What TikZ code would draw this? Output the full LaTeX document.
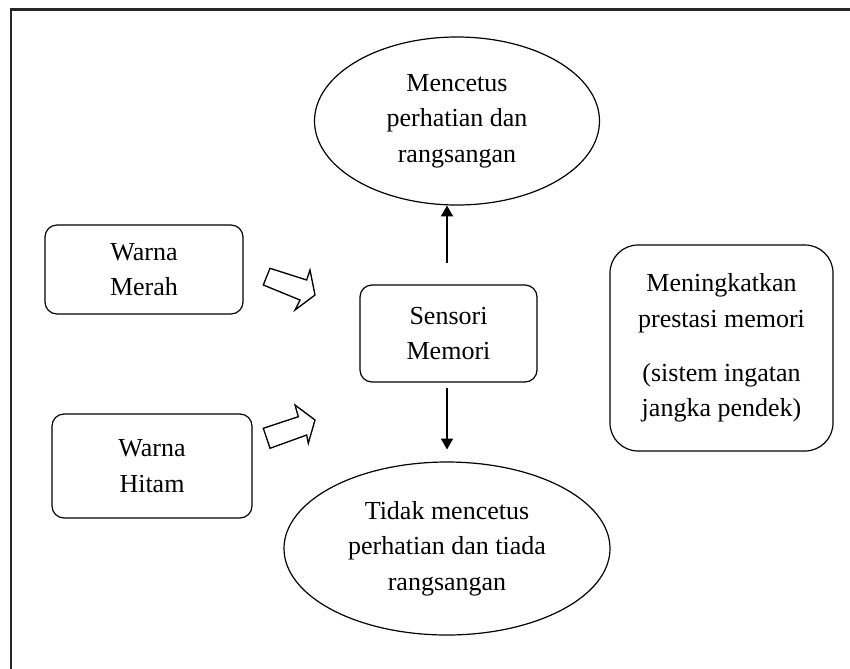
\documentclass[tikz,border=0pt]{standalone}
\usepackage{fontspec}
\setmainfont{Liberation Serif}
\usetikzlibrary{shapes.geometric,arrows.meta}
\tikzset{
  lbl/.style={font=\fontsize{19.5}{26.5}\selectfont, align=center, inner sep=0pt},
  rbox/.style={lbl, draw, line width=0.9pt, rounded corners=9pt},
  ebox/.style={lbl, draw, ellipse, line width=0.9pt},
  conn/.style={line width=0.8pt, -{Triangle[width=9pt,length=8pt]}},
  blockarrow/.style={draw, line width=1pt, line join=miter, fill=white},
  frame/.style={line width=1.6pt, black!85}
}
\begin{document}
\begin{tikzpicture}[x=0.75pt, y=-0.75pt]
\useasboundingbox (0,0) rectangle (850,668);
% frame (open at right and bottom)
\draw[frame] (11,680) -- (11,9.5) -- (860,9.5);

\node[ebox, minimum width=213.75pt, minimum height=126pt] (top) at (457,121)
  {Mencetus\\perhatian dan\\rangsangan};
\node[ebox, minimum width=244.5pt, minimum height=129.75pt] (bot) at (447,548.5)
  {Tidak mencetus\\perhatian dan tiada\\rangsangan};
\node[rbox, minimum width=148.5pt, minimum height=66.75pt] (merah) at (144,269.5)
  {Warna\\Merah};
\node[rbox, minimum width=150pt, minimum height=78pt] (hitam) at (152,466)
  {Warna\\Hitam};
\node[rbox, minimum width=132.75pt, minimum height=72.75pt] (sens) at (448.5,333.5)
  {Sensori\\Memori};
\node[rbox, rounded corners=21pt, minimum width=167.25pt, minimum height=154.5pt] (right) at (721.5,348)
  {Meningkatkan\\prestasi memori\\[14pt](sistem ingatan\\jangka pendek)};

\coordinate (upstart) at (447,263);
\coordinate (downstart) at (447,388);
\draw[conn] (upstart) -- (upstart |- top.south);
\draw[conn] (downstart) -- ([yshift=9pt]downstart |- bot.north);

% block arrows
\draw[blockarrow] (270,268.3) -- (306.7,280) -- (310,270) -- (315,295)
  -- (295,310) -- (300,300) -- (263.3,285) -- cycle;
\draw[blockarrow] (270,448.3) -- (263.3,428.3) -- (298.3,416.7) -- (295,405)
  -- (315,420) -- (308.3,443.3) -- (306.7,435) -- cycle;
\end{tikzpicture}
\end{document}
